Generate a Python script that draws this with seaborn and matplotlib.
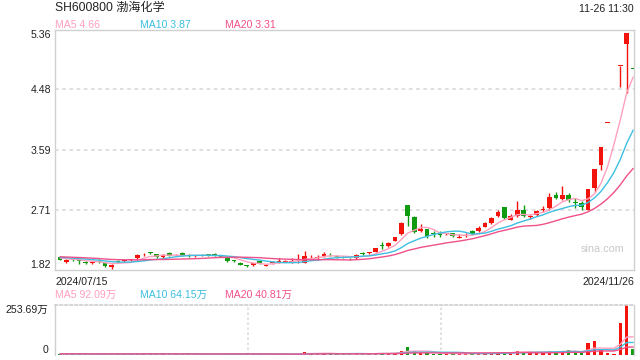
import numpy as np
import pandas as pd
import matplotlib
matplotlib.use("Agg")
import matplotlib.pyplot as plt
import seaborn as sns

# ---------------- data ----------------
title = "SH600800 渤海化学"
timestamp = "11-26 11:30"
date_labels = ["2024/07/15", "2024/11/26"]
price_ticks = [1.82, 2.71, 3.59, 4.48, 5.36]
price_tick_labels = ["1.82", "2.71", "3.59", "4.48", "5.36"]
vol_ticks = [0, 253.69]
vol_tick_labels = ["0", "253.69万"]
ma_labels = ["MA5 4.66", "MA10 3.87", "MA20 3.31"]
vol_ma_labels = ["MA5 92.09万", "MA10 64.15万", "MA20 40.81万"]
watermark = "sina.com"

opens = [2.01, 1.94, 1.98, 1.965, 1.935, 1.92, 1.955, 1.92, 1.86, 1.945,
         1.955, 1.965, 1.99, 2.035, 2.075, 2.05, 2.01, 2.07, 2.035, 2.07,
         2.035, 2.02, 2.045, 2.055, 2.06, 2.025, 1.99, 1.965, 1.93, 1.895,
         1.89, 1.95, 1.885, 1.925, 1.945, 1.945, 1.945, 1.975, 1.93, 2.005,
         1.995, 2.02, 2.045, 2.03, 2.015, 1.985, 1.99, 2.065, 2.065, 2.09,
         2.185, 2.17, 2.25, 2.35, 2.77, 2.60, 2.40, 2.42, 2.365, 2.37,
         2.345, 2.36, 2.295, 2.325, 2.39, 2.39, 2.46, 2.51, 2.61, 2.74,
         2.56, 2.61, 2.71, 2.605, 2.63, 2.705, 2.73, 2.93, 2.86, 2.92,
         2.815, 2.80, 2.71, 3.03, 3.36, 3.99, 4.39, 4.83, 5.14, 4.78]
highs = [2.02, 1.98, 1.99, 1.97, 1.95, 1.94, 1.98, 1.93, 1.91, 1.96,
         1.97, 1.98, 2.05, 2.07, 2.09, 2.06, 2.05, 2.08, 2.06, 2.08,
         2.05, 2.04, 2.06, 2.06, 2.07, 2.04, 2.00, 1.97, 1.94, 1.90,
         1.93, 1.96, 1.91, 1.95, 2.00, 1.97, 2.00, 2.05, 2.10, 2.04,
         2.04, 2.08, 2.07, 2.04, 2.03, 2.00, 2.05, 2.08, 2.09, 2.15,
         2.23, 2.23, 2.31, 2.53, 2.78, 2.62, 2.49, 2.43, 2.40, 2.40,
         2.37, 2.37, 2.35, 2.36, 2.41, 2.47, 2.53, 2.60, 2.70, 2.75,
         2.65, 2.83, 2.77, 2.64, 2.70, 2.76, 2.95, 2.97, 3.05, 2.96,
         2.88, 2.83, 3.01, 3.31, 3.63, 3.99, 4.39, 4.83, 5.31, 4.78]
lows = [1.96, 1.93, 1.95, 1.91, 1.91, 1.91, 1.93, 1.87, 1.835, 1.92,
        1.94, 1.95, 1.98, 2.02, 2.05, 2.00, 2.00, 2.02, 2.03, 2.03,
        2.01, 2.01, 2.02, 2.03, 2.02, 2.01, 1.94, 1.94, 1.89, 1.87,
        1.88, 1.91, 1.88, 1.91, 1.93, 1.94, 1.93, 1.92, 1.92, 1.98,
        1.97, 2.01, 2.02, 2.00, 1.99, 1.96, 1.98, 2.04, 2.05, 2.08,
        2.13, 2.16, 2.24, 2.34, 2.47, 2.37, 2.38, 2.29, 2.31, 2.31,
        2.33, 2.31, 2.29, 2.31, 2.34, 2.38, 2.45, 2.50, 2.60, 2.57,
        2.55, 2.60, 2.60, 2.57, 2.62, 2.68, 2.71, 2.86, 2.85, 2.82,
        2.73, 2.71, 2.70, 2.97, 3.29, 3.99, 4.39, 4.52, 4.43, 4.78]
closes = [1.97, 1.97, 1.96, 1.955, 1.925, 1.93, 1.945, 1.88, 1.90, 1.935,
          1.965, 1.975, 2.04, 2.045, 2.065, 2.01, 2.04, 2.03, 2.045, 2.04,
          2.025, 2.03, 2.035, 2.045, 2.03, 2.015, 1.95, 1.955, 1.90, 1.885,
          1.92, 1.92, 1.895, 1.935, 1.955, 1.955, 1.955, 1.985, 2.03, 2.015,
          2.005, 2.06, 2.035, 2.015, 2.005, 1.975, 2.04, 2.055, 2.075, 2.14,
          2.175, 2.22, 2.30, 2.51, 2.61, 2.38, 2.42, 2.32, 2.355, 2.34,
          2.355, 2.32, 2.305, 2.335, 2.35, 2.44, 2.51, 2.59, 2.67, 2.58,
          2.62, 2.71, 2.61, 2.615, 2.69, 2.715, 2.90, 2.88, 2.93, 2.85,
          2.805, 2.74, 3.01, 3.30, 3.63, 3.99, 4.39, 4.83, 5.31, 4.78]
volumes = [6, 7, 5, 5, 4, 4, 5, 6, 8, 5,
           4, 5, 9, 7, 6, 5, 6, 6, 5, 5,
           4, 4, 4, 4, 5, 4, 7, 5, 6, 5,
           5, 5, 4, 4, 5, 4, 4, 6, 15, 8,
           7, 8, 6, 5, 5, 5, 8, 6, 7, 9,
           12, 8, 10, 22, 40, 18, 10, 9, 7, 7,
           6, 7, 6, 6, 7, 9, 9, 10, 11, 17,
           12, 22, 15, 14, 16, 13, 20, 17, 22, 24,
           13, 8, 60, 70, 26, 8, 5, 163, 253.69, 31]
# closes / volumes before 2024/07/15, used only for the moving averages
prev_closes = [2.03, 2.04, 2.02, 2.01, 2.03, 2.05, 2.04, 2.02, 2.00, 1.99,
               2.01, 2.03, 2.02, 2.00, 2.01, 2.02, 2.00, 1.99, 2.00]
prev_volumes = [6, 5, 6, 7, 5, 6, 5, 6, 7, 6, 5, 6, 5, 6, 7, 6, 5, 6, 6]

# ---------------- style ----------------
sns.set_theme(style="white")
plt.rcParams["font.family"] = ["Liberation Sans", "Noto Sans CJK SC"]

RED = "#f2140c"
GREEN = "#0f9b0f"
C_MA5 = "#ffa0be"
C_MA10 = "#3cbfe0"
C_MA20 = "#f0508a"
FRAME = "#d0d0d0"
GRID = "#dcdcdc"
TXT = "#222222"
FS = 7.6

n = len(closes)
idx = np.arange(n)
o = np.array(opens); h = np.array(highs); l = np.array(lows); c = np.array(closes)
v = np.array(volumes)
prev_c = np.r_[prev_closes[-1], c[:-1]]
up = (c > o) | ((c == o) & (c >= prev_c))
colors = np.where(up, RED, GREEN)

all_c = pd.Series(list(prev_closes) + list(closes))
all_v = pd.Series(list(prev_volumes) + list(volumes))
k = len(prev_closes)
df = pd.DataFrame({
    "i": idx,
    "ma5": all_c.rolling(5).mean().values[k:],
    "ma10": all_c.rolling(10).mean().values[k:],
    "ma20": all_c.rolling(20).mean().values[k:],
    "vma5": all_v.rolling(5).mean().values[k:],
    "vma10": all_v.rolling(10).mean().values[k:],
    "vma20": all_v.rolling(20).mean().values[k:],
})

W, H = 640, 360
fig = plt.figure(figsize=(6.4, 3.6), dpi=100)
fig.patch.set_facecolor("white")

def fx(x):
    return x / W

def fy(y):
    return 1 - y / H

ax = fig.add_axes([fx(55), fy(270), (634 - 55) / W, 240.5 / H])
axv = fig.add_axes([fx(55), fy(355), (634 - 55) / W, 50 / H])

xlim = (-0.78, 89.13)

# ---------------- price panel ----------------
for yv in price_ticks[1:-1]:
    ax.axhline(yv, color=GRID, lw=1.3, ls=(0, (2, 2)), zorder=0)

ax.vlines(idx, l, h, colors=colors, lw=1.0, zorder=2)
body_h = np.maximum(np.abs(c - o), 0.013)
ax.bar(idx, body_h, bottom=np.minimum(o, c), width=0.74, color=colors,
       linewidth=0, zorder=3)

sns.lineplot(data=df, x="i", y="ma5", ax=ax, color=C_MA5, lw=1.0, zorder=4)
sns.lineplot(data=df, x="i", y="ma10", ax=ax, color=C_MA10, lw=1.0, zorder=4)
sns.lineplot(data=df, x="i", y="ma20", ax=ax, color=C_MA20, lw=1.0, zorder=4)

ax.set_xlim(*xlim)
ax.set_ylim(price_ticks[0], price_ticks[-1])
ax.set_xlabel("")
ax.set_ylabel("")
ax.set_xticks([])
ax.set_yticks(price_ticks)
ax.set_yticklabels(price_tick_labels, fontsize=FS, color=TXT)
ax.tick_params(axis="y", length=0, pad=3)
lbls = ax.get_yticklabels()
lbls[0].set_va("bottom")
lbls[-1].set_va("top")
for sp in ax.spines.values():
    sp.set_visible(True)
    sp.set_color(FRAME)
    sp.set_linewidth(1.0)

ax.text(0.0, -0.03, date_labels[0], transform=ax.transAxes, ha="left",
        va="top", fontsize=FS, color=TXT)
ax.text(1.0, -0.03, date_labels[1], transform=ax.transAxes, ha="right",
        va="top", fontsize=FS, color=TXT)
fig.text(fx(602.5), fy(249.5), watermark, ha="center", va="center",
         fontsize=7.8, color="#c8c8c8")

# ---------------- volume panel ----------------
vcol = colors
vh = np.maximum(v, 1.2)
axv.bar(idx, vh, width=0.52, color=vcol, linewidth=0, zorder=2)
sns.lineplot(data=df, x="i", y="vma5", ax=axv, color=C_MA5, lw=1.0, zorder=3)
sns.lineplot(data=df, x="i", y="vma10", ax=axv, color=C_MA10, lw=1.0, zorder=3)
sns.lineplot(data=df, x="i", y="vma20", ax=axv, color=C_MA20, lw=1.0, zorder=3)
for fr in (1 / 3, 2 / 3):
    axv.plot([fr, fr], [0, 1], transform=axv.transAxes, color=GRID, lw=1.2,
             ls=(0, (1.5, 1.5)), zorder=0)
axv.set_xlim(*xlim)
axv.set_ylim(vol_ticks[0], vol_ticks[-1])
axv.set_xlabel("")
axv.set_ylabel("")
axv.set_xticks([])
axv.set_yticks(vol_ticks)
axv.set_yticklabels(vol_tick_labels, fontsize=FS, color=TXT)
axv.tick_params(axis="y", length=0, pad=5)
vl = axv.get_yticklabels()
vl[0].set_va("bottom")
vl[-1].set_va("top")
for name, sp in axv.spines.items():
    sp.set_color(FRAME)
    sp.set_linewidth(1.0)
axv.spines["bottom"].set_visible(False)
axv.spines["top"].set_visible(True)
axv.spines["top"].set_linestyle((0, (1.5, 1.5)))
axv.spines["top"].set_linewidth(1.2)
axv.spines["left"].set_visible(True)
axv.spines["right"].set_visible(True)

# ---------------- header texts ----------------
fig.text(fx(55), fy(7.5), title, ha="left", va="center", fontsize=8.7, color=TXT)
fig.text(fx(634), fy(8.5), timestamp, ha="right", va="center", fontsize=FS, color=TXT)
for lab, xx, col in zip(ma_labels, [55, 140, 225], [C_MA5, C_MA10, C_MA20]):
    fig.text(fx(xx), fy(24.5), lab, ha="left", va="center", fontsize=FS, color=col)
for lab, xx, col in zip(vol_ma_labels, [55, 140, 225], [C_MA5, C_MA10, C_MA20]):
    fig.text(fx(xx), fy(294.5), lab, ha="left", va="center", fontsize=FS, color=col)

fig.savefig("out.png", dpi=100, facecolor="white")
